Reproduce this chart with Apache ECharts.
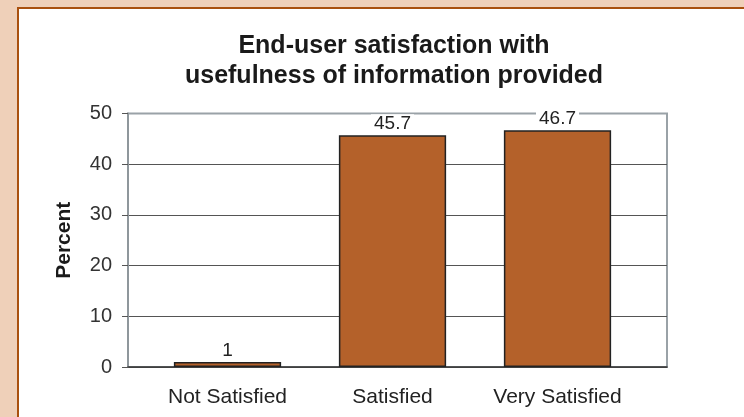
<!DOCTYPE html>
<html>
<head>
<meta charset="utf-8">
<script src="https://cdn.jsdelivr.net/npm/echarts@6/dist/echarts.min.js"></script>
<style>
  html, body { margin: 0; padding: 0; }
  #main { width: 744px; height: 417px; }
</style>
</head>
<body>
<div id="main"></div>
<script>
var categories = ["Not Satisfied", "Satisfied", "Very Satisfied"];
var percents = [1, 45.7, 46.7];
var yTicks = [0, 10, 20, 30, 40, 50];

var chart = echarts.init(document.getElementById("main"));
var font = "Liberation Sans, Arial, sans-serif";

var option = {
    backgroundColor: "#efd0b9",
    animation: false,
    textStyle: { fontFamily: font },
    graphic: [{
        type: "rect",
        z: -10,
        shape: { x: 18, y: 8, width: 800, height: 500 },
        style: { fill: "#ffffff", stroke: "#a9500e", lineWidth: 2 }
    }],
    title: {
        text: "End-user satisfaction with\nusefulness of information provided",
        left: 389,
        top: 26,
        textAlign: "center",
        textStyle: {
            fontFamily: font,
            fontSize: 25,
            fontWeight: "bold",
            lineHeight: 30,
            color: "#1a1a1a"
        }
    },
    grid: [
        // frame + y axis
        { left: 128, right: 77, top: 113.5, bottom: 50, show: true,
          borderColor: "#9aa2a7", borderWidth: 2, backgroundColor: "transparent" },
        // bars
        { left: 145, right: 104, top: 113.5, bottom: 50 }
    ],
    xAxis: [
        { type: "value", gridIndex: 0, min: 0, max: 1,
          axisLabel: { show: false }, axisTick: { show: false }, splitLine: { show: false },
          axisLine: { show: true, lineStyle: { color: "#3a3a3a", width: 1.5 } } },
        { type: "category", gridIndex: 1, data: categories,
          axisLine: { show: false }, axisTick: { show: false },
          axisLabel: { interval: 0, fontSize: 21, color: "#222", margin: 20, fontFamily: font } }
    ],
    yAxis: [
        { type: "value", gridIndex: 0, min: yTicks[0], max: yTicks[yTicks.length - 1], interval: 10,
          name: "Percent", nameLocation: "middle", nameGap: 53, nameRotate: 90,
          nameTextStyle: { fontSize: 21, fontWeight: "bold", color: "#1a1a1a", fontFamily: font },
          axisLine: { show: true, lineStyle: { color: "#8f979c", width: 2 } },
          axisTick: { show: true, length: 6, lineStyle: { color: "#555" } },
          axisLabel: { fontSize: 20, color: "#333", margin: 16, fontFamily: font },
          splitLine: { show: true, showMaxLine: false, lineStyle: { color: "#555", width: 1 } } },
        { type: "value", gridIndex: 1, min: 0, max: 50, show: false }
    ],
    series: [{
        type: "bar",
        xAxisIndex: 1,
        yAxisIndex: 1,
        data: percents,
        barWidth: "65%",
        itemStyle: { color: "#b4612a", borderColor: "#222", borderWidth: 1.5 },
        label: {
            show: true,
            position: "top",
            distance: 2,
            fontSize: 19,
            color: "#222",
            fontFamily: font,
            backgroundColor: "#ffffff",
            padding: [0, 3]
        }
    }]
};
chart.setOption(option);
</script>
</body>
</html>
